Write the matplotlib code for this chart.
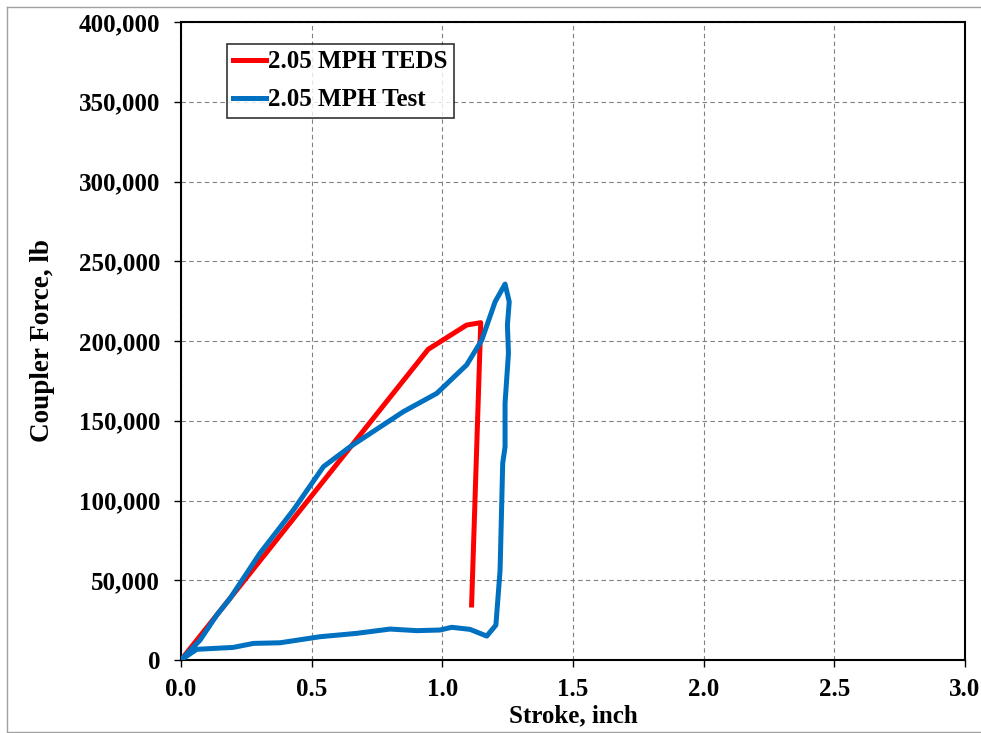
import matplotlib
matplotlib.use("Agg")
import matplotlib.pyplot as plt
from matplotlib.lines import Line2D
from matplotlib.ticker import FuncFormatter, MultipleLocator

teds_stroke = [0.0, 0.946, 1.093, 1.147, 1.112]
teds_force = [0, 194800, 210000, 211500, 34500]

test_stroke = [0.0, 0.073, 0.137, 0.188, 0.302, 0.43, 0.545, 0.647, 0.851, 0.979,
               1.093, 1.151, 1.202, 1.24, 1.256, 1.249, 1.253, 1.24, 1.24, 1.231,
               1.221, 1.205, 1.17, 1.106, 1.036, 0.991, 0.902, 0.80, 0.672, 0.532,
               0.379, 0.277, 0.20, 0.06, 0.0]
test_force = [0, 12500, 28200, 38700, 66900, 94000, 121200, 133700, 155700, 167200,
              185000, 200600, 224600, 235700, 224600, 210000, 192300, 161000, 133700, 123300,
              56400, 21900, 15000, 19200, 20500, 18800, 18400, 19400, 16700, 14600,
              10800, 10400, 7900, 6700, 0]

labels = ["2.05 MPH TEDS", "2.05 MPH Test"]
colors = ["#FF0000", "#0070C0"]

plt.rcParams['font.family'] = ['Liberation Serif', 'DejaVu Serif']
plt.rcParams['font.weight'] = 'bold'

fig = plt.figure(figsize=(9.81, 7.33), dpi=100)
ax = fig.add_axes([181/981, 1-660/733, (965-181)/981, (660-22)/733])

ax.plot(teds_stroke, teds_force, color=colors[0], lw=3.6, label=labels[0], solid_joinstyle='round', zorder=3)
ax.plot(test_stroke, test_force, color=colors[1], lw=3.6, label=labels[1], solid_joinstyle='round', zorder=3)

ax.set_xlim(0, 3.0)
ax.set_ylim(0, 400000)
ax.xaxis.set_major_locator(MultipleLocator(0.5))
ax.yaxis.set_major_locator(MultipleLocator(50000))
ax.xaxis.set_major_formatter(FuncFormatter(lambda v, p: f"{v:.1f}"))
ax.yaxis.set_major_formatter(FuncFormatter(lambda v, p: f"{int(v):,}"))
ax.grid(True, color='#808080', linestyle=(0, (4, 3)), lw=0.8)
ax.set_axisbelow(True)
for s in ax.spines.values():
    s.set_linewidth(1.5)
    s.set_color('black')
ax.tick_params(direction='out', length=5, width=1, labelsize=18)
ax.tick_params(axis='y', pad=10)
ax.tick_params(axis='x', pad=8)
for t in ax.get_xticklabels() + ax.get_yticklabels():
    t.set_fontweight('bold')

ax.set_xlabel("Stroke, inch", fontsize=18, fontweight='bold', labelpad=2)
ax.set_ylabel("Coupler Force, lb", fontsize=19.5, fontweight='bold', labelpad=17)

leg = ax.legend(loc='upper left', bbox_to_anchor=(46/784, 1-22/638), frameon=True, fancybox=False,
                edgecolor='black', fontsize=18, handlelength=1.3, handletextpad=0.08,
                borderpad=0.25, labelspacing=0.6, borderaxespad=0)
leg.get_frame().set_linewidth(1.2)
for t in leg.get_texts():
    t.set_fontweight('bold')

# light gray outer frame (left, top, bottom edges)
for xs, ys in [([7/981, 7/981], [1-7/733, 1-732/733]),
               ([7/981, 1.0], [1-7/733, 1-7/733]),
               ([7/981, 1.0], [1-731.5/733, 1-731.5/733])]:
    fig.add_artist(Line2D(xs, ys, transform=fig.transFigure, color='#a0a0a0', lw=1))

fig.savefig("out.png", dpi=100)
